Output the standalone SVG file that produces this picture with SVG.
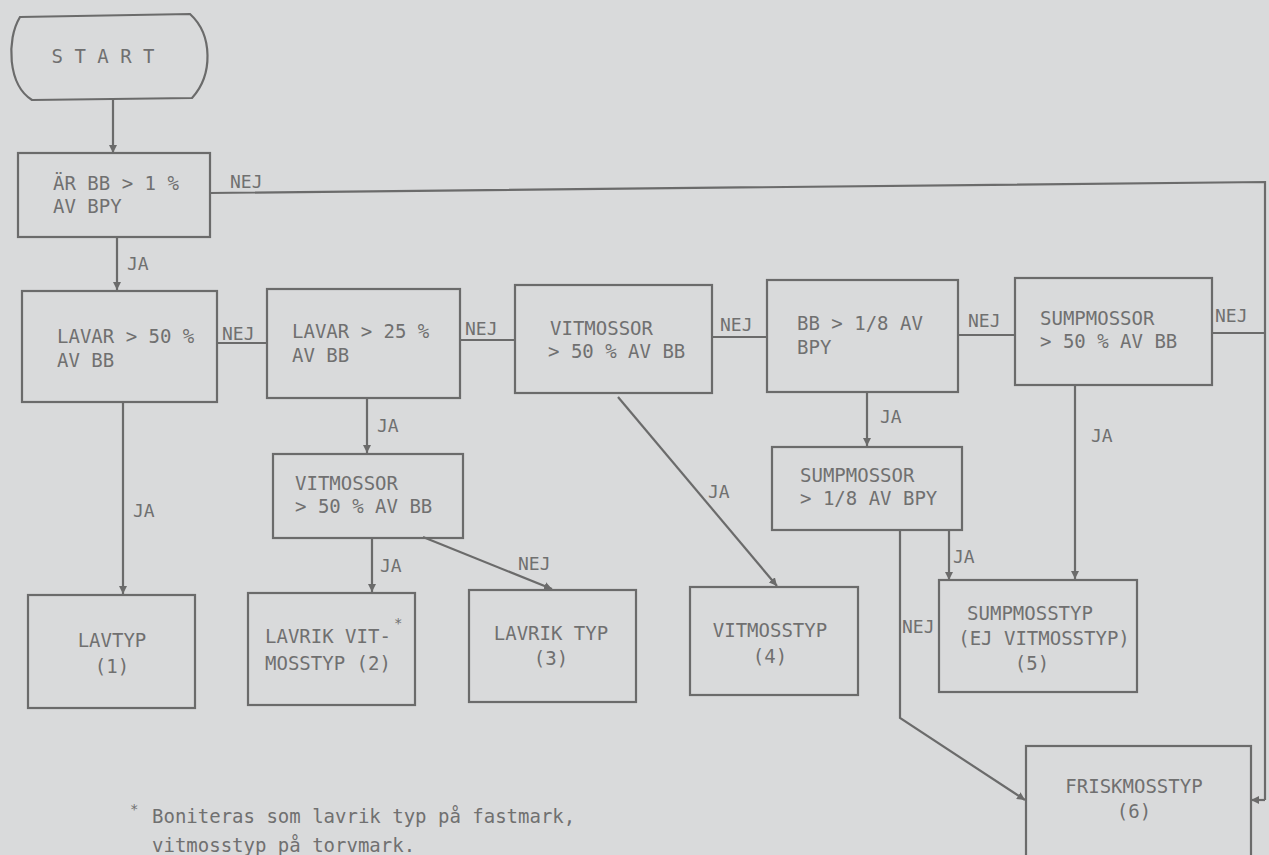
<svg xmlns="http://www.w3.org/2000/svg" width="1269" height="855" viewBox="0 0 1269 855">
<defs>
<marker id="ah" viewBox="0 0 10 10" refX="10" refY="5" markerWidth="8" markerHeight="8" markerUnits="userSpaceOnUse" orient="auto">
<path d="M0,0 L10,5 L0,10 z" fill="#6b6b6b"/>
</marker>
<style>
.box{fill:none;stroke:#6b6b6b;stroke-width:2.2}
.ln{fill:none;stroke:#6b6b6b;stroke-width:2.2}
.arr{fill:none;stroke:#6b6b6b;stroke-width:2.2;marker-end:url(#ah)}
text{font-family:"DejaVu Sans Mono","Liberation Mono",monospace;font-size:19px;fill:#707070}
.c{text-anchor:middle}
.lb{font-size:18px}
.ast{font-size:14px}
</style>
</defs>
<rect width="1269" height="855" fill="#d9dadb"/>

<g id="connectors">
<path class="arr" d="M113 100 V153"/>
<path class="ln" d="M210 193 L1265 182 V800"/>
<path class="arr" d="M1265 800 H1251"/>
<path class="arr" d="M117 237 V290"/>
<path class="ln" d="M217 343 H267"/>
<path class="ln" d="M460 340 H515"/>
<path class="ln" d="M712 337 H767"/>
<path class="ln" d="M958 335 H1015"/>
<path class="ln" d="M1212 333 H1265"/>
<path class="arr" d="M123 402 V594"/>
<path class="arr" d="M367 398 V453"/>
<path class="arr" d="M372 538 V592"/>
<path class="arr" d="M423 537 L552 589"/>
<path class="arr" d="M618 397 L777 586"/>
<path class="arr" d="M867 392 V446"/>
<path class="arr" d="M1075 385 V579"/>
<path class="arr" d="M949 530 V580"/>
<path class="arr" d="M900 530 V718 L1025 800"/>
<text x="230" y="188" class="lb">NEJ</text>
<text x="127" y="270" class="lb">JA</text>
<text x="222" y="340" class="lb">NEJ</text>
<text x="465" y="335" class="lb">NEJ</text>
<text x="720" y="331" class="lb">NEJ</text>
<text x="968" y="327" class="lb">NEJ</text>
<text x="1215" y="322" class="lb">NEJ</text>
<text x="377" y="432" class="lb">JA</text>
<text x="133" y="517" class="lb">JA</text>
<text x="380" y="572" class="lb">JA</text>
<text x="518" y="570" class="lb">NEJ</text>
<text x="708" y="498" class="lb">JA</text>
<text x="880" y="423" class="lb">JA</text>
<text x="1091" y="442" class="lb">JA</text>
<text x="953" y="563" class="lb">JA</text>
<text x="902" y="633" class="lb">NEJ</text>
</g>

<g id="start">
<path class="box" d="M20 17 L190 14 C213 35 213 75 192 98 L32 100 C8 85 6 40 20 17 Z"/>
<text x="103" y="63" class="c">S T A R T</text>
</g>
<g id="q1">
<rect class="box" x="18" y="153" width="192" height="84"/>
<text x="53" y="190">ÄR BB &gt; 1 %</text>
<text x="53" y="213">AV BPY</text>
</g>
<g id="q2">
<rect class="box" x="22" y="291" width="195" height="111"/>
<text x="57" y="343">LAVAR &gt; 50 %</text>
<text x="57" y="367">AV BB</text>
</g>
<g id="q3">
<rect class="box" x="267" y="289" width="193" height="109"/>
<text x="292" y="338">LAVAR &gt; 25 %</text>
<text x="292" y="362">AV BB</text>
</g>
<g id="q4">
<rect class="box" x="515" y="285" width="197" height="108"/>
<text x="550" y="335">VITMOSSOR</text>
<text x="548" y="358">&gt; 50 % AV BB</text>
</g>
<g id="q5">
<rect class="box" x="767" y="280" width="191" height="112"/>
<text x="797" y="330">BB &gt; 1/8 AV</text>
<text x="797" y="354">BPY</text>
</g>
<g id="q6">
<rect class="box" x="1015" y="278" width="197" height="107"/>
<text x="1040" y="325">SUMPMOSSOR</text>
<text x="1040" y="348">&gt; 50 % AV BB</text>
</g>
<g id="q7">
<rect class="box" x="273" y="454" width="190" height="84"/>
<text x="295" y="490">VITMOSSOR</text>
<text x="295" y="513">&gt; 50 % AV BB</text>
</g>
<g id="q8">
<rect class="box" x="772" y="447" width="190" height="83"/>
<text x="800" y="482">SUMPMOSSOR</text>
<text x="800" y="505">&gt; 1/8 AV BPY</text>
</g>
<g id="t1">
<rect class="box" x="28" y="595" width="167" height="113"/>
<text x="112" y="647" class="c">LAVTYP</text>
<text x="112" y="673" class="c">(1)</text>
</g>
<g id="t2">
<rect class="box" x="248" y="593" width="167" height="112"/>
<text x="265" y="643">LAVRIK VIT-</text>
<text x="265" y="670">MOSSTYP (2)</text>
<text x="394" y="628" class="ast">*</text>
</g>
<g id="t3">
<rect class="box" x="469" y="590" width="167" height="112"/>
<text x="551" y="640" class="c">LAVRIK TYP</text>
<text x="551" y="665" class="c">(3)</text>
</g>
<g id="t4">
<rect class="box" x="690" y="587" width="168" height="108"/>
<text x="770" y="637" class="c">VITMOSSTYP</text>
<text x="770" y="663" class="c">(4)</text>
</g>
<g id="t5">
<rect class="box" x="939" y="580" width="198" height="112"/>
<text x="1030" y="620" class="c">SUMPMOSSTYP</text>
<text x="1044" y="645" class="c">(EJ VITMOSSTYP)</text>
<text x="1032" y="670" class="c">(5)</text>
</g>
<g id="t6">
<rect class="box" x="1026" y="746" width="225" height="120"/>
<text x="1134" y="793" class="c">FRISKMOSSTYP</text>
<text x="1134" y="818" class="c">(6)</text>
</g>
<g id="footnote">
<text x="130" y="814" class="ast">*</text>
<text x="152" y="823">Boniteras som lavrik typ på fastmark,</text>
<text x="152" y="852">vitmosstyp på torvmark.</text>
</g>
</svg>
